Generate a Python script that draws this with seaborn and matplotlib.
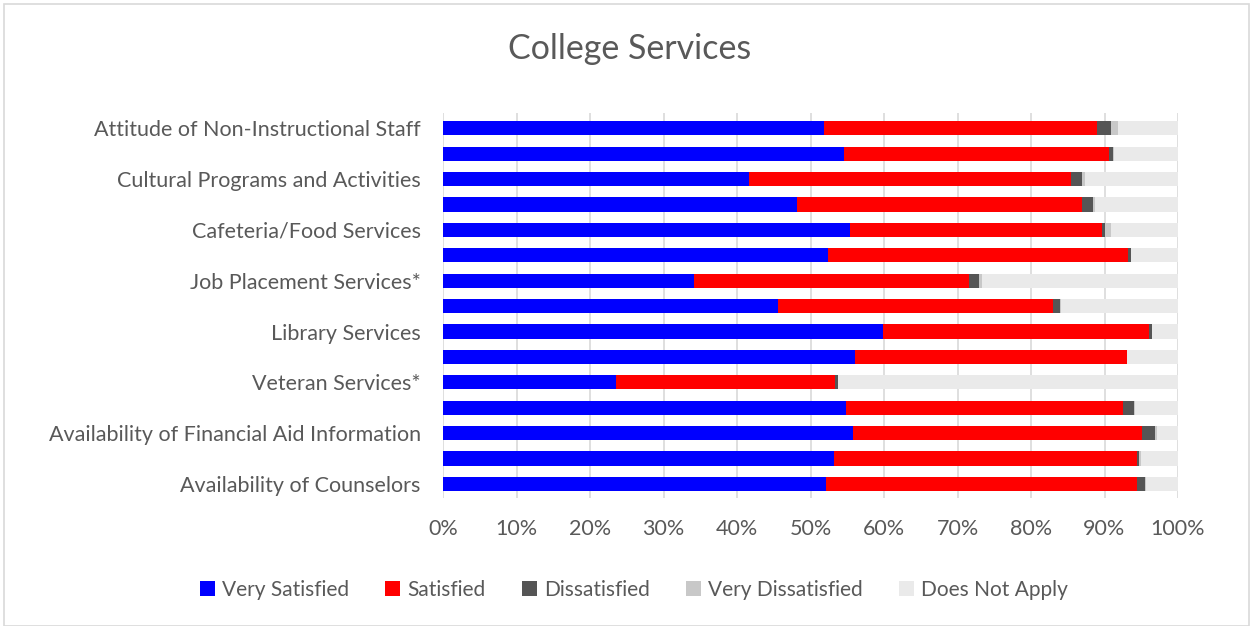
import matplotlib
matplotlib.use("Agg")
import matplotlib.pyplot as plt
import seaborn as sns
import numpy as np
import pandas as pd
from matplotlib.patches import Rectangle, Patch

categories = [
    "Attitude of Non-Instructional Staff",
    "Service 2",
    "Cultural Programs and Activities",
    "Service 4",
    "Cafeteria/Food Services",
    "Service 6",
    "Job Placement Services*",
    "Service 8",
    "Library Services",
    "Service 10",
    "Veteran Services*",
    "Service 12",
    "Availability of Financial Aid Information",
    "Service 14",
    "Availability of Counselors",
]
shown_labels = [c if i % 2 == 0 else "" for i, c in enumerate(categories)]

series = ["Very Satisfied", "Satisfied", "Dissatisfied", "Very Dissatisfied", "Does Not Apply"]
very_satisfied = [51.9, 54.5, 41.7, 48.1, 55.4, 52.4, 34.2, 45.6, 59.9, 56.1, 23.5, 54.8, 55.8, 53.2, 52.1]
satisfied = [37.1, 36.1, 43.7, 38.9, 34.2, 40.8, 37.4, 37.4, 36.2, 36.9, 29.8, 37.7, 39.3, 41.2, 42.3]
dissatisfied = [1.9, 0.5, 1.5, 1.5, 0.5, 0.4, 1.3, 0.9, 0.4, 0.1, 0.4, 1.5, 1.8, 0.3, 1.1]
very_dissatisfied = [0.9, 0.2, 0.4, 0.2, 0.8, 0.0, 0.4, 0.2, 0.0, 0.0, 0.1, 0.2, 0.3, 0.2, 0.1]
does_not_apply = [8.2, 8.7, 12.7, 11.3, 9.1, 6.4, 26.7, 15.9, 3.5, 6.9, 46.2, 5.8, 2.8, 5.1, 4.4]
colors = ["#0000FF", "#FF0000", "#555555", "#C8C8C8", "#EAEAEA"]
xticks = [0, 10, 20, 30, 40, 50, 60, 70, 80, 90, 100]

df = pd.DataFrame({
    "Category": categories,
    "Very Satisfied": very_satisfied,
    "Satisfied": satisfied,
    "Dissatisfied": dissatisfied,
    "Very Dissatisfied": very_dissatisfied,
    "Does Not Apply": does_not_apply,
})
vals = df[series].to_numpy()
totals = vals.sum(axis=1, keepdims=True)
cum = np.cumsum(vals / totals * 100, axis=1)

sns.set_theme(style="white")
plt.rcParams["font.family"] = ["Lato", "DejaVu Sans"]
text_color = "#595959"

fig = plt.figure(figsize=(12.54, 6.26), dpi=100)
ax = fig.add_axes([443 / 1254, 1 - 498 / 626, (1178 - 443) / 1254, (498 - 113) / 626])

for j in range(len(series) - 1, -1, -1):
    d = pd.DataFrame({"Category": categories, "value": cum[:, j]})
    sns.barplot(data=d, x="value", y="Category", order=categories, orient="h",
                color=colors[j], width=0.56, ax=ax, zorder=3, saturation=1,
                edgecolor="none", linewidth=0)

ax.set_xlim(0, 100)
ax.set_ylim(len(categories) - 0.45, -0.6)
ax.set_xticks(xticks)
ax.set_xticklabels([f"{t}%" for t in xticks], fontsize=15.5, color=text_color)
ax.set_yticks(range(len(categories)))
ax.set_yticklabels(shown_labels, fontsize=15.5, color=text_color)
ax.tick_params(axis="x", length=0, pad=15)
ax.tick_params(axis="y", length=0, pad=16)
ax.set_xlabel("")
ax.set_ylabel("")
ax.grid(axis="x", color="#D9D9D9", linewidth=1.2, zorder=0)
for s in ax.spines.values():
    s.set_visible(False)

fig.text(630 / 1254, 1 - 49 / 626, "College Services", ha="center", va="center",
         fontsize=24.5, color=text_color)

handles = [Patch(facecolor=c, edgecolor="none") for c in colors]
fig.legend(handles, series, loc="center", bbox_to_anchor=(634 / 1254, 1 - 590 / 626),
           ncol=5, frameon=False, fontsize=15, labelcolor=text_color,
           handlelength=0.7, handleheight=0.7, handletextpad=0.35, columnspacing=1.75)

fig.patches.append(Rectangle((4 / 1254, 0.0), 1245 / 1254, 1 - 4 / 626, transform=fig.transFigure,
                             fill=False, edgecolor="#D9D9D9", linewidth=1.2))

fig.savefig("out.png", dpi=100, facecolor="white")
